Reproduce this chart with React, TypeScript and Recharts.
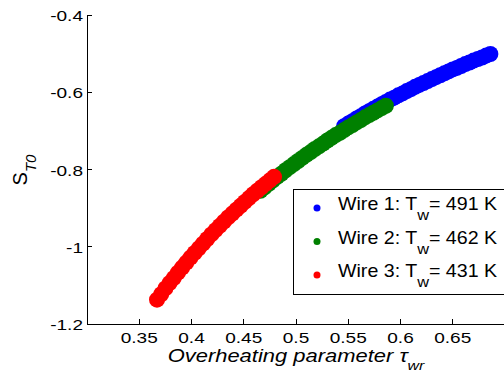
import { ScatterChart, Scatter, XAxis, YAxis, Legend } from "recharts"

const FONT = "'Liberation Sans', Arial, Helvetica, sans-serif"

const tauTicks = [0.35, 0.4, 0.45, 0.5, 0.55, 0.6, 0.65]
const sTicks = [-1.2, -1, -0.8, -0.6, -0.4]

// Wire 1, T_w = 491 K
const wire1Tau = [
  0.546, 0.55, 0.554, 0.558, 0.562, 0.566, 0.57, 0.574, 0.578, 0.582, 0.586, 0.59,
  0.594, 0.598, 0.602, 0.606, 0.61, 0.614, 0.618, 0.622, 0.626, 0.63, 0.634, 0.638,
  0.642, 0.646, 0.65, 0.654, 0.658, 0.662, 0.666, 0.67, 0.674, 0.678, 0.682, 0.686,
]
const wire1S = [
  -0.688, -0.681, -0.675, -0.668, -0.662, -0.655, -0.649, -0.643, -0.637, -0.631, -0.625, -0.619,
  -0.614, -0.608, -0.603, -0.597, -0.592, -0.586, -0.581, -0.576, -0.571, -0.566, -0.561, -0.556,
  -0.551, -0.546, -0.541, -0.537, -0.532, -0.527, -0.523, -0.518, -0.514, -0.51, -0.505, -0.501,
]

// Wire 2, T_w = 462 K
const wire2Tau = [
  0.466, 0.47, 0.474, 0.478, 0.482, 0.486, 0.49, 0.494, 0.498,
  0.502, 0.506, 0.51, 0.514, 0.518, 0.522, 0.526, 0.53, 0.534, 0.538, 0.542,
  0.546, 0.55, 0.554, 0.558, 0.562, 0.566, 0.57, 0.574, 0.578, 0.582, 0.586,
]
const wire2S = [
  -0.855, -0.846, -0.837, -0.828, -0.819, -0.811, -0.802, -0.794, -0.786,
  -0.778, -0.77, -0.762, -0.755, -0.747, -0.74, -0.733, -0.725, -0.718, -0.711, -0.705,
  -0.698, -0.691, -0.685, -0.678, -0.672, -0.665, -0.659, -0.653, -0.647, -0.641, -0.635,
]

// Wire 3, T_w = 431 K
const wire3Tau = [
  0.367, 0.371, 0.375, 0.379, 0.383, 0.387, 0.391, 0.395, 0.399, 0.403,
  0.407, 0.411, 0.415, 0.419, 0.423, 0.427, 0.431, 0.435, 0.439, 0.443,
  0.447, 0.451, 0.455, 0.459, 0.463, 0.467, 0.471, 0.475, 0.479,
]
const wire3S = [
  -1.137, -1.123, -1.108, -1.094, -1.081, -1.067, -1.054, -1.041, -1.028, -1.016,
  -1.004, -0.992, -0.98, -0.968, -0.957, -0.946, -0.935, -0.924, -0.914, -0.904,
  -0.894, -0.884, -0.874, -0.864, -0.855, -0.846, -0.837, -0.828, -0.819,
]

const wires = [
  { label: "Wire 1", temp: 491, color: "#0000ff", tau: wire1Tau, s: wire1S },
  { label: "Wire 2", temp: 462, color: "#008000", tau: wire2Tau, s: wire2S },
  { label: "Wire 3", temp: 431, color: "#ff0000", tau: wire3Tau, s: wire3S },
]

const toPoints = (tau: number[], s: number[]) => tau.map((t, i) => ({ x: t, y: s[i] }))

const frameLine = { stroke: "#000", strokeWidth: 1, shapeRendering: "crispEdges" }

function XTick({ x, y, payload }: any) {
  return (
    <text transform={`translate(${x},${y + 19}) scale(1.27,1)`} textAnchor="middle"
      fontSize={15} fontFamily={FONT} fill="#000">
      {payload.value}
    </text>
  )
}

function YTick({ x, y, payload }: any) {
  return (
    <text transform={`translate(${x},${y + 6}) scale(1.27,1)`} textAnchor="end"
      fontSize={15} fontFamily={FONT} fill="#000">
      {payload.value}
    </text>
  )
}

function XTitle({ viewBox }: any) {
  const cx = viewBox.x + viewBox.width / 2
  return (
    <text transform={`translate(${cx},${viewBox.y + 38}) scale(1.22,1)`} textAnchor="middle"
      fontSize={18} fontFamily={FONT} fontStyle="italic" fill="#000">
      Overheating parameter τ
      <tspan fontSize={13} dy={8}>wr</tspan>
    </text>
  )
}

function YTitle() {
  return (
    <text transform="translate(27,170) rotate(-90)" textAnchor="middle"
      fontSize={20} fontFamily={FONT} fill="#000">
      S
      <tspan fontSize={15} fontStyle="italic" dy={9}>T0</tspan>
    </text>
  )
}

function WireLegend() {
  return (
    <svg width={240} height={107} style={{ display: "block" }}>
      <rect x={0.5} y={0.5} width={260} height={105} fill="#fff" stroke="#000" />
      {wires.map((w, i) => (
        <g key={w.label}>
          <circle cx={24} cy={19 + i * 33.5} r={3.5} fill={w.color} />
          <text transform={`translate(45,${21 + i * 33.5}) scale(1.09,1)`}
            fontSize={18} fontFamily={FONT} fill="#000">
            {w.label}: T
            <tspan fontSize={15} dy={10}>w</tspan>
            <tspan dy={-10}>= {w.temp} K</tspan>
          </text>
        </g>
      ))}
    </svg>
  )
}

export default function App() {
  // first wire drawn first so the later ones sit on top
  return (
    <div style={{ position: "absolute", left: 0, top: 0, width: 504, height: 382, overflow: "hidden", background: "#fff" }}>
      <ScatterChart width={510} height={382} margin={{ top: 15, right: 5, bottom: 0, left: 0 }}>
        <XAxis type="number" dataKey="x" domain={[0.3, 0.7]} ticks={tauTicks}
          height={58} axisLine={frameLine} tickLine={frameLine} tickSize={-5} tickMargin={5}
          tick={<XTick />} label={<XTitle />} allowDataOverflow />
        <XAxis type="number" xAxisId="top" orientation="top" domain={[0.3, 0.7]} ticks={tauTicks}
          height={0} axisLine={frameLine} tickLine={frameLine} tickSize={-5} tick={false} />
        <YAxis type="number" dataKey="y" domain={[-1.2, -0.4]} ticks={sTicks}
          width={87} axisLine={frameLine} tickLine={frameLine} tickSize={-5} tickMargin={9}
          tick={<YTick />} allowDataOverflow />
        <YAxis type="number" yAxisId="right" orientation="right" domain={[-1.2, -0.4]} ticks={sTicks}
          width={0} axisLine={frameLine} tickLine={frameLine} tickSize={-5} tick={false} />
        {wires.map((w) => (
          <Scatter key={w.label} name={w.label} data={toPoints(w.tau, w.s)} isAnimationActive={false}
            shape={(p: any) => <circle cx={p.cx} cy={p.cy} r={8} fill={w.color} />} />
        ))}
        <Legend layout="vertical" verticalAlign="middle" align="center"
          wrapperStyle={{ left: 293, top: 189, width: 240, height: 107 }}
          content={() => <WireLegend />} />
      </ScatterChart>
      <svg width={60} height={382} style={{ position: "absolute", left: 0, top: 0, pointerEvents: "none" }}>
        <YTitle />
      </svg>
    </div>
  )
}
